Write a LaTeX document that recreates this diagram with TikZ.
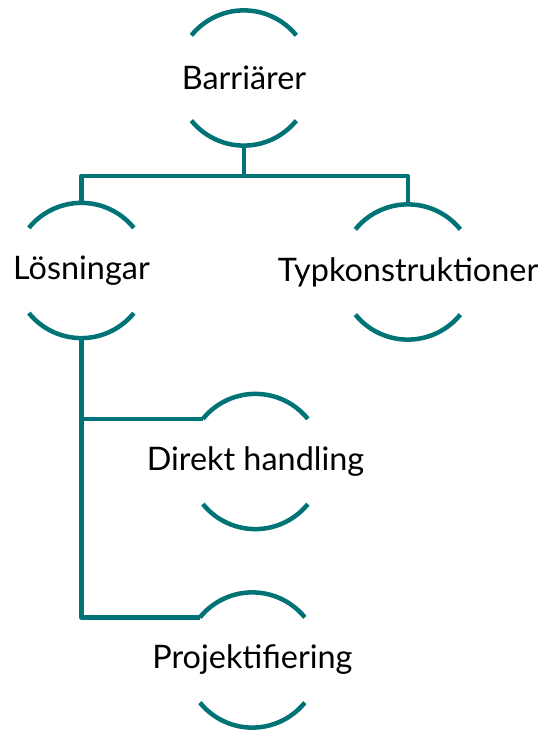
\documentclass[tikz,border=0pt]{standalone}
\usepackage{fontspec}
\setmainfont{Lato}
\definecolor{teal1}{RGB}{0,115,119}
\newcommand{\halfarcs}[1]{%
  \draw[arcline] (#1.141) arc[start angle=141,end angle=39,radius=67.5pt];
  \draw[arcline] (#1.219) arc[start angle=219,end angle=321,radius=67.5pt];}
\newcommand{\zw}[1]{\makebox[0pt][c]{#1}}
\tikzset{
  circnode/.style={circle,minimum size=135pt,inner sep=0pt,draw=none,font=\fontsize{32.4}{38}\selectfont,text=black},
  arcline/.style={draw=teal1,line width=4.5pt},
  conn/.style={draw=teal1,line width=4.5pt,line join=round}
}
\begin{document}
\begin{tikzpicture}[x=1pt,y=1pt]
\useasboundingbox (0,0) rectangle (542,730);
\node[circnode] (b) at (244,652) {\zw{Barriärer}};
\node[circnode] (l) at (81.5,459.5) {\zw{Lösningar}};
\node[circnode] (t) at (408,458) {\zw{Typkonstruktioner}};
\node[circnode] (d) at (255.5,268.5) {\zw{Direkt handling}};
\node[circnode] (p) at (252.5,70) {\zw{Projektifiering}};
\halfarcs{b}
\halfarcs{l}
\halfarcs{t}
\halfarcs{d}
\halfarcs{p}
\coordinate (bar) at (244,554);
\draw[conn] (b.south) -- (bar) -| (l.north);
\draw[conn] (bar) -| (t.north);
\draw[conn] (l.south) |- (p.141);
\draw[conn] (d.141) -| (l.south);
\end{tikzpicture}
\end{document}
